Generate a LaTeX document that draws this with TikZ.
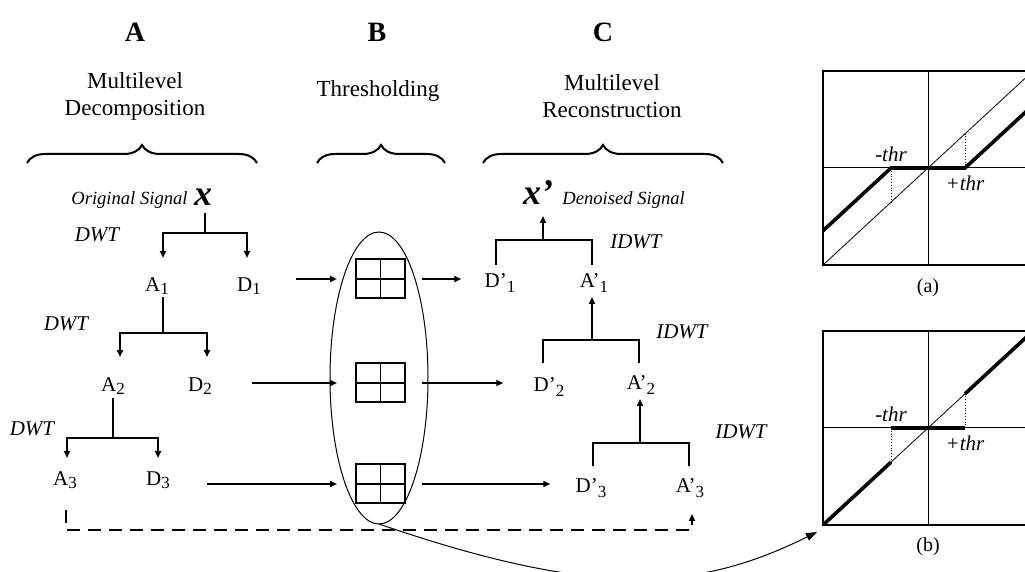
\documentclass[tikz,border=0pt]{standalone}
\usepackage{fontspec}
\setmainfont{Liberation Serif}
\usetikzlibrary{arrows.meta,calc,decorations.pathreplacing,shapes.geometric}
\newcommand\subsc[1]{\raisebox{-1.3pt}{\fontsize{8.5}{10}\selectfont #1}}
\newcommand\subsp[1]{\raisebox{-2.2pt}{\fontsize{8.5}{10}\selectfont #1}}
\begin{document}
\begin{tikzpicture}[x=0.5pt,y=-0.5pt,
  ln/.style={line width=1pt},
  arr/.style={line width=1pt,-{Triangle[length=3.5pt,width=3pt]}},
  dsh/.style={dash pattern=on 6.5pt off 4pt},
  brc/.style={decorate,decoration={brace,amplitude=9pt,aspect=0.5},line width=1pt},
  hd/.style={inner sep=0pt,font=\fontsize{14}{16}\selectfont\bfseries},
  subt/.style={inner sep=0pt,align=center,font=\fontsize{11.5}{13.5}\selectfont},
  sym/.style={inner sep=0pt,anchor=base,font=\fontsize{10.5}{12}\selectfont},
  opl/.style={inner sep=0pt,font=\fontsize{10.5}{12}\selectfont\itshape},
  sig/.style={inner sep=0pt,font=\fontsize{9.3}{11}\selectfont\itshape},
  bigx/.style={inner sep=0pt,anchor=base,font=\fontsize{18}{20}\selectfont\bfseries\itshape},
  tbox/.style={draw,line width=1pt,minimum width=24.5pt,minimum height=19.5pt,inner sep=0pt,outer sep=0pt,
    path picture={\draw[line width=0.6pt] (path picture bounding box.north) -- (path picture bounding box.south)
      (path picture bounding box.west) -- (path picture bounding box.east);}},
  pframe/.style={draw,line width=1pt,minimum width=105pt,minimum height=97pt,inner sep=0pt,outer sep=0pt},
  paxis/.style={line width=0.5pt},
  pdiag/.style={line width=0.4pt},
  pthk/.style={line width=1.8pt},
  pdot/.style={line width=0.4pt,densely dotted},
  thrl/.style={inner sep=0pt,anchor=base,font=\fontsize{10.5}{12}\selectfont\itshape},
  pcap/.style={inner sep=0pt,font=\fontsize{10}{12}\selectfont}
]
\useasboundingbox (0,0) rectangle (1025,572);
\clip (0,0) rectangle (1025,572);

% headings
\node[hd,anchor=base] (hA) at (135,42) {A};
\node[hd,anchor=base] (hB) at (377,42) {B};
\node[hd,anchor=base] (hC) at (603,42) {C};
\node[subt] (tA) at (135,96) {Multilevel\\Decomposition};
\node[subt,anchor=base] (tB) at (378,97) {Thresholding};
\node[subt] (tC) at (612,96) {Multilevel\\Reconstruction};
\draw[brc] (27,163) -- (257,163);
\draw[brc] (317,163) -- (445,163);
\draw[brc] (483,163) -- (723,163);

% tree A
\node[sig,anchor=base east] (orig) at (188,205) {Original Signal};
\node[bigx] (x) at (203,206) {x};
\node[sym] (A1) at (157,292) {A\subsc{1}};
\node[sym] (D1) at (249,292) {D\subsc{1}};
\node[sym] (A2) at (113,392) {A\subsc{2}};
\node[sym] (D2) at (200,392) {D\subsc{2}};
\node[sym] (A3) at (65,486) {A\subsc{3}};
\node[sym] (D3) at (158,486) {D\subsc{3}};
\node[opl] (dwt1) at (97,235) {DWT};
\node[opl] (dwt2) at (66,324) {DWT};
\node[opl] (dwt3) at (32,429) {DWT};

\draw[ln] ($(x.base)+(2,7)$) -- ($(x.base)+(2,27)$) coordinate (b1);
\draw[arr] (b1) -| ($(A1.base)+(6,-34)$);
\draw[arr] (b1) -| ($(D1.base)+(-2,-34)$);
\draw[ln] ($(A1.base)+(6,5)$) -- ($(A1.base)+(6,41)$) coordinate (b2);
\draw[arr] (b2) -| ($(A2.base)+(7,-35)$);
\draw[arr] (b2) -| ($(D2.base)+(7,-35)$);
\draw[ln] ($(A2.base)+(0,6)$) -- ($(A2.base)+(0,46)$) coordinate (b3);
\draw[arr] (b3) -| ($(A3.base)+(2,-28)$);
\draw[arr] (b3) -| ($(D3.base)+(0,-28)$);

% thresholding
\node[draw,ellipse,line width=0.5pt,minimum width=49pt,minimum height=146pt,inner sep=0pt,outer sep=0pt] (ell) at (379,378) {};
\node[tbox] (box1) at (380.5,279) {};
\node[tbox] (box2) at (380.5,383) {};
\node[tbox] (box3) at (380.5,484) {};

% tree C
\node[bigx] (xp) at (538,205) {x’};
\node[sig,anchor=base west] (den) at (562,205) {Denoised Signal};
\node[sym] (Dp1) at (500,288) {D’\subsp{1}};
\node[sym] (Ap1) at (594,288) {A’\subsp{1}};
\node[sym] (Dp2) at (549,392) {D’\subsp{2}};
\node[sym] (Ap2) at (641,390) {A’\subsp{2}};
\node[sym] (Dp3) at (591,493) {D’\subsp{3}};
\node[sym] (Ap3) at (690,493) {A’\subsp{3}};
\node[opl] (idwt1) at (636,242) {IDWT};
\node[opl] (idwt2) at (682,332) {IDWT};
\node[opl] (idwt3) at (741,432) {IDWT};

\draw[ln] ($(Dp1.base)+(-4,-23)$) -- ($(Dp1.base)+(-4,-48)$) -| ($(Ap1.base)+(-2,-23)$);
\draw[arr] ($(xp.base)+(5,35)$) -- ($(xp.base)+(5,11)$);
\draw[ln] ($(Dp2.base)+(-6,-29)$) -- ($(Dp2.base)+(-6,-52)$) -| ($(Ap2.base)+(-2,-27)$);
\draw[arr] ($(Ap1.base)+(-2,52)$) -- ($(Ap1.base)+(-2,9)$);
\draw[ln] ($(Dp3.base)+(2,-27)$) -- ($(Dp3.base)+(2,-50)$) -| ($(Ap3.base)+(-1,-27)$);
\draw[arr] ($(Ap2.base)+(-1,53)$) -- ($(Ap2.base)+(-1,9)$);

% horizontal arrows
\draw[arr] ($(D1.east |- box1.west)+(35,0)$) -- ($(box1.west)+(-19,0)$);
\draw[arr] ($(D2.east |- box2.west)+(40,0)$) -- ($(box2.west)+(-19,0)$);
\draw[arr] ($(D3.east |- box3.west)+(37,0)$) -- ($(box3.west)+(-19,0)$);
\draw[arr] ($(box1.east)+(17,0)$) -- ($(Dp1.west |- box1.east)+(-23,0)$);
\draw[arr] ($(box2.east)+(17,0)$) -- ($(Dp2.west |- box2.east)+(-30,0)$);
\draw[arr] ($(box3.east)+(17,0)$) -- ($(Dp3.west |- box3.east)+(-25,0)$);

% dashed bypass
\draw[arr,dsh] ($(A3.base)+(1,24)$) -- ($(A3.base)+(1,44)$) -| ($(Ap3.base)+(2,21)$);

% plot (a)
\node[pframe] (pa) at (928,168) {};
\draw[paxis] (928,71) -- (928,265) (823,168) -- (1033,168);
\draw[pdiag] (823,265) -- (1033,71);
\draw[pdot] (891,168) -- (891,202.2) (965,168) -- (965,133.8);
\draw[pthk] (823,230.8) -- (891,168) -- (965,168) -- (1033,105.2);
\node[thrl] (ma) at (891,162) {-thr};
\node[thrl] (pa2) at (965,191) {+thr};
\node[pcap] (la) at (928,288) {(a)};

% plot (b)
\node[pframe] (pb) at (928,428) {};
\draw[paxis] (928,331) -- (928,525) (823,428) -- (1033,428);
\draw[pdiag] (823,525) -- (1033,331);
\draw[pdot] (891,428) -- (891,462.2) (965,428) -- (965,393.8);
\draw[pthk] (823,525) -- (891,462.2);
\draw[pthk] (891,428) -- (965,428);
\draw[pthk] (965,393.8) -- (1033,331);
\node[thrl] (mb) at (891,422) {-thr};
\node[thrl] (pb2) at (965,451) {+thr};
\node[pcap] (lb) at (928,547) {(b)};

% link from thresholding to plot
\draw[line width=0.5pt,-{Triangle[length=5.5pt,width=4pt]}] (ell.south) .. controls (600,600) and (700,590) .. ($(pb.south west)+(-6,7)$);
\end{tikzpicture}
\end{document}
